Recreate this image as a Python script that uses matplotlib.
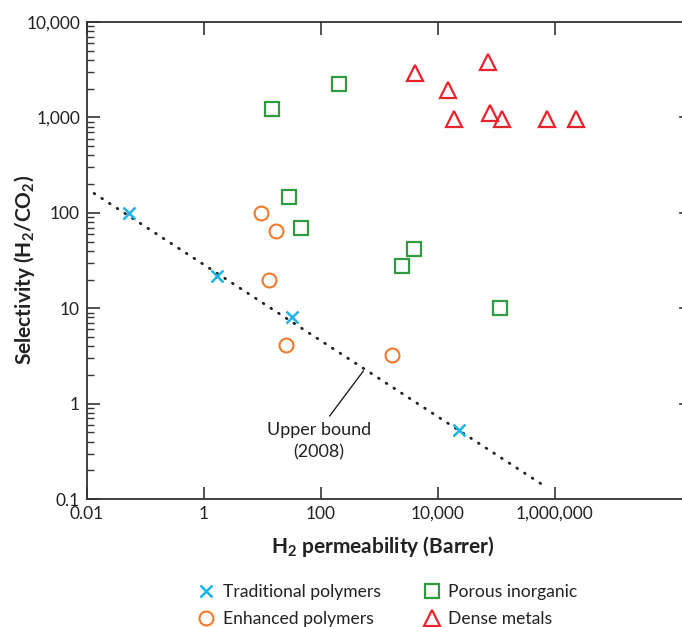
import matplotlib
matplotlib.use("Agg")
import matplotlib.pyplot as plt
from matplotlib.ticker import FixedLocator, LogLocator, NullLocator, NullFormatter

plt.rcParams['font.family'] = ['Lato', 'DejaVu Sans']
plt.rcParams['mathtext.fontset'] = 'custom'
plt.rcParams['mathtext.rm'] = 'Lato'
plt.rcParams['mathtext.bf'] = 'Lato:bold'

# H2 permeability (Barrer) and H2/CO2 selectivity
trad_x = [0.053, 1.66, 31.5, 23200]
trad_y = [100, 22, 8.0, 0.53]

enh_x = [9.5, 17, 12.9, 25.7, 1650]
enh_y = [100, 64, 20, 4.1, 3.2]

porous_x = [14.7, 205, 28.8, 45.6, 3970, 2480, 115000]
porous_y = [1216, 2240, 146, 69, 42, 28, 10]

metal_x = [4090, 71500, 14800, 18700, 76500, 124000, 743000, 2330000]
metal_y = [2900, 3840, 1940, 970, 1120, 960, 960, 970]

# Robeson upper bound (2008), end points of the dotted line
ub_x = [0.0132, 690000]
ub_y = [160, 0.135]

x_ticks = [0.01, 1, 100, 10000, 1000000]
x_labels = ['0.01', '1', '100', '10,000', '1,000,000']
y_ticks = [0.1, 1, 10, 100, 1000, 10000]
y_labels = ['0.1', '1', '10', '100', '1,000', '10,000']

c_trad = '#1bb3e8'
c_enh = '#f37a2c'
c_por = '#2f9a3f'
c_met = '#e8232d'
c_axis = '#333333'

fig = plt.figure(figsize=(6.82, 6.27), dpi=100)
ax = fig.add_axes([0.1276, 0.2041, 0.875, 0.7608])

ax.plot(ub_x, ub_y, color='#222222', lw=2.0, linestyle=(0, (0.3, 3.0)),
        dash_capstyle='round', zorder=2)

ax.plot(trad_x, trad_y, 'x', ms=9, mew=1.8, color=c_trad, ls='none',
        label='Traditional polymers', zorder=3)
ax.plot(enh_x, enh_y, 'o', ms=10, mew=1.5, mfc='none', mec=c_enh, ls='none',
        label='Enhanced polymers', zorder=3)
ax.plot(porous_x, porous_y, 's', ms=9.5, mew=1.6, mfc='none', mec=c_por, ls='none',
        label='Porous inorganic', zorder=3)
ax.plot(metal_x, metal_y, '^', ms=11, mew=1.6, mfc='none', mec=c_met, ls='none',
        label='Dense metals', zorder=3)

ax.annotate('Upper bound\n(2008)', xy=(532, 2.2), xytext=(92, 0.64),
            ha='center', va='top', fontsize=13, color='#222222', linespacing=1.45,
            arrowprops=dict(arrowstyle='-', color='#222222', lw=1.0,
                            shrinkA=3, shrinkB=0, relpos=(0.56, 1.0)))

ax.set_xscale('log')
ax.set_yscale('log')
ax.set_xlim(0.01, 10 ** 8.205)
ax.set_ylim(0.1, 10000)

ax.xaxis.set_major_locator(FixedLocator(x_ticks))
ax.set_xticklabels(x_labels)
ax.xaxis.set_minor_locator(NullLocator())
ax.yaxis.set_major_locator(FixedLocator(y_ticks))
ax.set_yticklabels(y_labels)
ax.yaxis.set_minor_locator(LogLocator(base=10, subs=range(2, 10)))
ax.yaxis.set_minor_formatter(NullFormatter())

ax.tick_params(axis='both', which='major', direction='in', length=9, width=1.2,
               colors=c_axis, labelsize=12.5, labelcolor='#222222', pad=5)
ax.tick_params(axis='x', which='major', top=True)
ax.tick_params(axis='y', which='minor', direction='in', length=5, width=1.0,
               colors=c_axis)
ax.tick_params(axis='y', which='major', right=False)
ax.tick_params(axis='y', which='minor', right=False)

for s in ax.spines.values():
    s.set_color(c_axis)
    s.set_linewidth(1.3)

# short ticks on the right spine
for yt in y_ticks[1:-1]:
    ax.plot([0.993, 1.0], [yt, yt], transform=ax.get_yaxis_transform(),
            color=c_axis, lw=1.2, clip_on=False)

ax.set_xlabel(r'H$_\mathbf{2}$ permeability (Barrer)', fontsize=15,
              fontweight='bold', color='#222222')
ax.xaxis.set_label_coords((383 - 87) / 596.75, -(546 - 499) / 477.0)
ax.set_ylabel(r'Selectivity (H$_\mathbf{2}$/CO$_\mathbf{2}$)', fontsize=15,
              fontweight='bold', color='#222222')
ax.yaxis.set_label_coords(-(87 - 24) / 596.75, (499 - 270) / 477.0)
ax.xaxis.label.set_va('center')
ax.yaxis.label.set_va('center')

fig.legend(loc='center', bbox_to_anchor=(0.567, 0.034), ncol=2, frameon=False,
           fontsize=12.6, handletextpad=0.35, columnspacing=2.3, labelspacing=0.6,
           handlelength=1.2, labelcolor='#222222')

fig.savefig('out.png', dpi=100)
